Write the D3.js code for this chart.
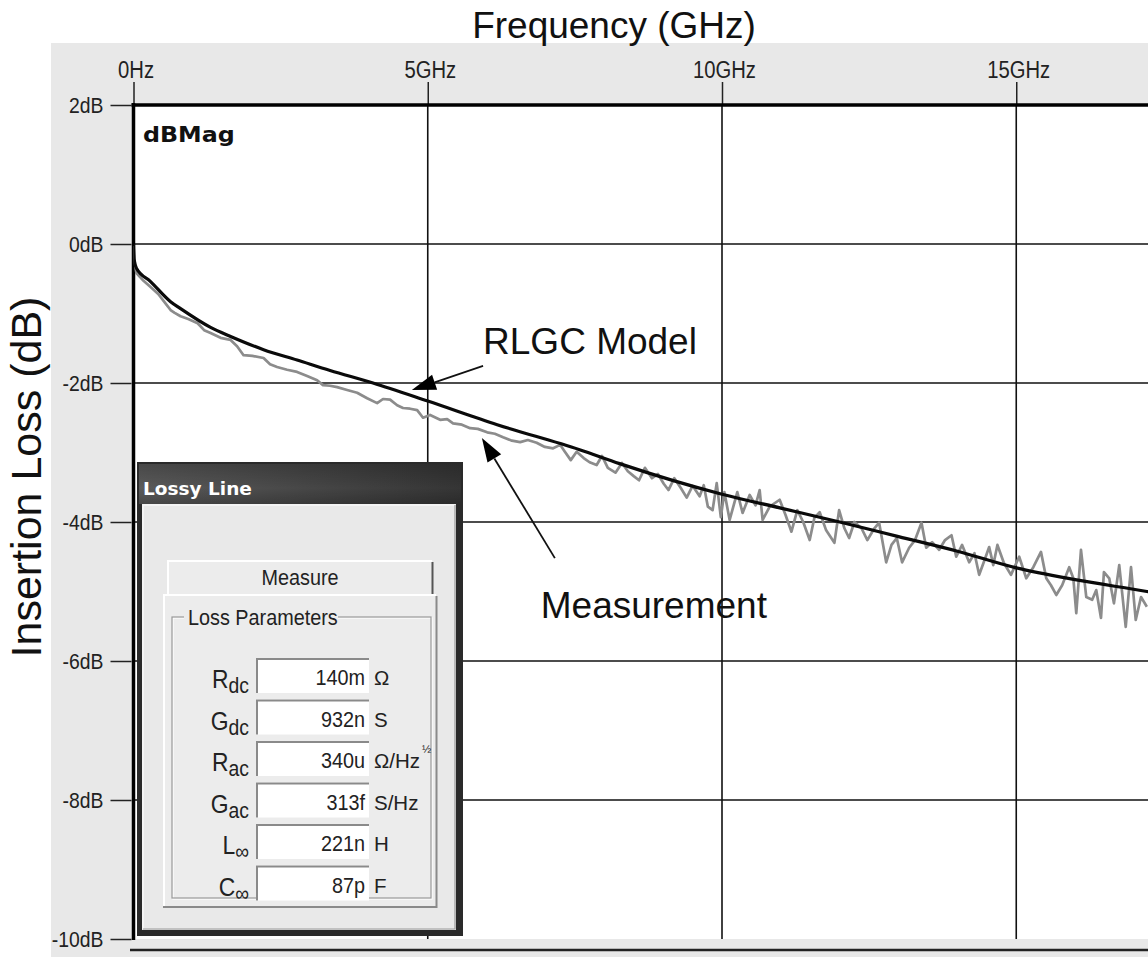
<!DOCTYPE html>
<html>
<head>
<meta charset="utf-8">
<script src="https://cdn.jsdelivr.net/npm/d3@7"></script>
<style>
  html, body { margin: 0; padding: 0; background: #ffffff; }
  svg { display: block; }
</style>
</head>
<body>
<script>
// ---------------- DATA ----------------
const freqTicks = [0, 5, 10, 15];
const freqTickLabels = ["0Hz", "5GHz", "10GHz", "15GHz"];
const dbTicks = [2, 0, -2, -4, -6, -8, -10];
const dbTickLabels = ["2dB", "0dB", "-2dB", "-4dB", "-6dB", "-8dB", "-10dB"];

// RLGC model (GHz, dB)
const modelFreq = [0, 0.01, 0.05, 0.29, 0.63, 0.8, 1.31, 1.65, 2.21, 2.78, 3.34, 4.07, 5.0, 6.18, 7.58, 8.26, 10, 11, 12, 13, 14, 15, 16, 17.22, 18];
const modelDb   = [0, -0.22, -0.35, -0.54, -0.83, -0.93, -1.2, -1.33, -1.52, -1.67, -1.82, -2.0, -2.26, -2.6, -2.96, -3.16, -3.6, -3.8, -4.0, -4.21, -4.42, -4.66, -4.83, -5.0, -5.12];

// Measurement (GHz, dB)
const measFreq = [0, 0.02, 0.05, 0.17, 0.29, 0.42, 0.54, 0.63, 0.70, 0.80, 0.93, 1.09, 1.20, 1.31, 1.48, 1.65, 1.76, 1.87, 2.02, 2.21, 2.32, 2.44, 2.61, 2.78, 2.95, 3.12, 3.22, 3.34, 3.46, 3.63, 3.80, 3.97, 4.14, 4.24, 4.36, 4.48, 4.58, 4.70, 4.82, 4.92, 5.04, 5.21, 5.33, 5.43, 5.58, 5.72, 5.85, 6.01, 6.14, 6.28, 6.43, 6.57, 6.70, 6.85, 6.99, 7.13, 7.25, 7.33, 7.43, 7.53, 7.65, 7.75, 7.87, 7.96, 8.06, 8.19, 8.30, 8.40, 8.50, 8.59, 8.69, 8.81, 8.91, 9.01, 9.09, 9.19, 9.30, 9.40, 9.50, 9.62, 9.69, 9.76, 9.84, 9.91, 9.98, 10.04, 10.13, 10.26, 10.35, 10.47, 10.57, 10.64, 10.69, 10.81, 10.98, 11.08, 11.18, 11.28, 11.38, 11.49, 11.57, 11.66, 11.77, 11.91, 11.99, 12.08, 12.16, 12.25, 12.37, 12.47, 12.59, 12.67, 12.79, 12.88, 12.97, 13.06, 13.18, 13.28, 13.39, 13.47, 13.57, 13.69, 13.79, 13.90, 13.98, 14.08, 14.20, 14.29, 14.37, 14.46, 14.54, 14.61, 14.68, 14.79, 14.91, 15.05, 15.17, 15.29, 15.42, 15.51, 15.59, 15.68, 15.78, 15.90, 15.97, 16.02, 16.10, 16.19, 16.29, 16.36, 16.44, 16.49, 16.58, 16.66, 16.75, 16.86, 16.95, 17.03, 17.12, 17.22];
const measDb   = [-0.03, -0.26, -0.42, -0.53, -0.62, -0.72, -0.85, -0.95, -0.99, -1.04, -1.08, -1.14, -1.24, -1.28, -1.35, -1.38, -1.47, -1.60, -1.61, -1.64, -1.73, -1.77, -1.81, -1.84, -1.90, -1.96, -2.03, -2.04, -2.06, -2.10, -2.14, -2.22, -2.29, -2.23, -2.24, -2.32, -2.36, -2.37, -2.39, -2.50, -2.46, -2.53, -2.52, -2.58, -2.60, -2.65, -2.66, -2.71, -2.73, -2.78, -2.83, -2.85, -2.82, -2.86, -2.92, -2.94, -2.89, -2.99, -3.11, -2.99, -3.08, -3.14, -3.18, -3.05, -3.22, -3.29, -3.15, -3.27, -3.34, -3.40, -3.22, -3.37, -3.31, -3.45, -3.54, -3.37, -3.51, -3.65, -3.48, -3.63, -3.47, -3.78, -3.83, -3.44, -3.93, -3.57, -3.97, -3.57, -3.87, -3.61, -3.76, -3.54, -3.97, -3.78, -3.68, -3.90, -4.14, -3.83, -4.00, -4.26, -3.94, -3.86, -4.12, -4.30, -3.83, -4.09, -4.23, -4.00, -4.09, -4.26, -4.09, -4.01, -4.58, -4.33, -4.23, -4.58, -4.37, -4.26, -4.01, -4.37, -4.29, -4.40, -4.26, -4.19, -4.50, -4.33, -4.58, -4.45, -4.76, -4.55, -4.36, -4.62, -4.33, -4.59, -4.76, -4.50, -4.81, -4.65, -4.43, -4.81, -4.91, -5.05, -4.91, -4.65, -4.81, -5.31, -4.40, -5.08, -5.12, -4.98, -5.38, -4.72, -4.81, -5.17, -4.62, -5.51, -4.65, -5.41, -5.08, -5.22];

// Dialog parameters
const paramSymbols = ["R", "G", "R", "G", "L", "C"];
const paramSubs    = ["dc", "dc", "ac", "ac", "∞", "∞"];
const paramValues  = ["140m", "932n", "340u", "313f", "221n", "87p"];
const paramUnits   = ["Ω", "S", "Ω/Hz", "S/Hz", "H", "F"];
const paramUnitSups = ["", "", "½", "", "", ""];

// Annotations (data units)
const annoRLGC = { text: "RLGC Model", f: 5.94, db: -1.58, from: [5.94, -1.755], to: [4.73, -2.10] };
const annoMeas = { text: "Measurement", f: 6.92, db: -5.38, from: [7.16, -4.52], to: [5.92, -2.79] };

// ---------------- CHART ----------------
const W = 1148, H = 957;
const svg = d3.select("body").append("svg").attr("width", W).attr("height", H);

const x = d3.scaleLinear().domain([0, 20]).range([133.5, 133.5 + 20 * 58.85]);
const y = d3.scaleLinear().domain([2, -10]).range([105, 939]);

const sans = "'Liberation Sans', Arial, sans-serif";

// squeeze text horizontally (narrow UI font look)
function squeeze(sel, f) {
  sel.each(function () {
    const w = this.getComputedTextLength();
    d3.select(this).attr("textLength", w * f).attr("lengthAdjust", "spacingAndGlyphs");
  });
}

// gray panel
svg.append("rect").attr("x", 51).attr("y", 43).attr("width", W - 51).attr("height", H - 43).attr("fill", "#e8e8e8");
// plot area
svg.append("rect").attr("x", x(0)).attr("y", y(2)).attr("width", W - x(0)).attr("height", y(-10) - y(2)).attr("fill", "#ffffff");
// bottom line
svg.append("line").attr("x1", 130).attr("x2", W).attr("y1", 950).attr("y2", 950).attr("stroke", "#222").attr("stroke-width", 2.5);

// grid
const grid = svg.append("g");
grid.selectAll("line.v").data(freqTicks.filter(d => d > 0)).join("line")
  .attr("x1", d => x(d)).attr("x2", d => x(d)).attr("y1", y(2)).attr("y2", y(-10))
  .attr("stroke", "#111").attr("stroke-width", 1.6);
grid.selectAll("line.h").data(dbTicks.filter(d => d < 2 && d > -10)).join("line")
  .attr("x1", x(0)).attr("x2", W).attr("y1", d => y(d)).attr("y2", d => y(d))
  .attr("stroke", "#111").attr("stroke-width", 1.6);

// axes
const xAxis = d3.axisTop(x).tickValues(freqTicks).tickFormat((d, i) => freqTickLabels[i]).tickSize(23).tickPadding(4);
const gx = svg.append("g").attr("transform", `translate(0,${y(2)})`).call(xAxis);
gx.select(".domain").remove();
gx.selectAll(".tick line").attr("stroke", "#222").attr("stroke-width", 1.5);
gx.selectAll(".tick text").attr("font-family", sans).attr("font-size", 23).attr("fill", "#222").attr("dx", 2);
squeeze(gx.selectAll(".tick text"), 0.88);

const yAxis = d3.axisLeft(y).tickValues(dbTicks).tickFormat((d, i) => dbTickLabels[i]).tickSize(21).tickPadding(7);
const gy = svg.append("g").attr("transform", `translate(${x(0) - 2},0)`).call(yAxis);
gy.select(".domain").remove();
gy.selectAll(".tick line").attr("stroke", "#222").attr("stroke-width", 1.5);
gy.selectAll(".tick text").attr("font-family", sans).attr("font-size", 22.5).attr("fill", "#222");
squeeze(gy.selectAll(".tick text"), 0.86);

// borders
svg.append("line").attr("x1", x(0)).attr("x2", x(0)).attr("y1", y(2) - 2).attr("y2", y(-10) + 1).attr("stroke", "#000").attr("stroke-width", 3.5);
svg.append("line").attr("x1", x(0) - 2).attr("x2", W).attr("y1", y(2)).attr("y2", y(2)).attr("stroke", "#000").attr("stroke-width", 3.5);

// titles
svg.append("text").attr("x", 614).attr("y", 38).attr("text-anchor", "middle")
  .attr("font-family", sans).attr("font-size", 37).attr("fill", "#111").text("Frequency (GHz)");
svg.append("text").attr("transform", "translate(41,477) rotate(-90)").attr("text-anchor", "middle")
  .attr("font-family", sans).attr("font-size", 43).attr("fill", "#111").text("Insertion Loss (dB)");
const dbm = svg.append("text").attr("x", 143).attr("y", 142)
  .attr("font-family", "'DejaVu Sans', sans-serif").attr("font-weight", "bold").attr("font-size", 22)
  .attr("fill", "#111").text("dBMag");
squeeze(dbm, 1.08);

// curves
svg.append("clipPath").attr("id", "plotclip").append("rect")
  .attr("x", x(0)).attr("y", y(2)).attr("width", W - x(0)).attr("height", y(-10) - y(2));
const curves = svg.append("g").attr("clip-path", "url(#plotclip)");
const measLine = d3.line().x((d, i) => x(measFreq[i])).y(d => y(d));
curves.append("path").attr("d", measLine(measDb)).attr("fill", "none")
  .attr("stroke", "#8c8c8c").attr("stroke-width", 2.7).attr("stroke-linejoin", "round");
const modelLine = d3.line().x((d, i) => x(modelFreq[i])).y(d => y(d)).curve(d3.curveMonotoneX);
curves.append("path").attr("d", modelLine(modelDb)).attr("fill", "none")
  .attr("stroke", "#0a0a0a").attr("stroke-width", 3.2);

// annotations
function arrow(a) {
  const x1 = x(a.from[0]), y1 = y(a.from[1]), x2 = x(a.to[0]), y2 = y(a.to[1]);
  const ang = Math.atan2(y2 - y1, x2 - x1);
  const L = 24, hw = 8;
  const bx = x2 - L * Math.cos(ang), by = y2 - L * Math.sin(ang);
  svg.append("line").attr("x1", x1).attr("y1", y1).attr("x2", bx).attr("y2", by)
    .attr("stroke", "#111").attr("stroke-width", 1.8);
  const p = [[x2, y2], [bx + hw * Math.sin(ang), by - hw * Math.cos(ang)], [bx - hw * Math.sin(ang), by + hw * Math.cos(ang)]];
  svg.append("polygon").attr("points", p.map(q => q.join(",")).join(" ")).attr("fill", "#000");
  svg.append("text").attr("x", x(a.f)).attr("y", y(a.db)).attr("font-family", sans).attr("font-size", 37)
    .attr("fill", "#111").text(a.text);
}
arrow(annoRLGC);
arrow(annoMeas);

// ---------------- DIALOG ----------------
const dlg = svg.append("g");
const defs = svg.append("defs");
const grad = defs.append("linearGradient").attr("id", "titlegrad").attr("x1", 0).attr("x2", 1).attr("y1", 0).attr("y2", 0);
grad.append("stop").attr("offset", "0%").attr("stop-color", "#5a5a5a");
grad.append("stop").attr("offset", "100%").attr("stop-color", "#353535");
const grad2 = defs.append("linearGradient").attr("id", "titlegrad2").attr("x1", 0).attr("x2", 0).attr("y1", 0).attr("y2", 1);
grad2.append("stop").attr("offset", "0%").attr("stop-color", "#000").attr("stop-opacity", 0.2);
grad2.append("stop").attr("offset", "60%").attr("stop-color", "#000").attr("stop-opacity", 0);
grad2.append("stop").attr("offset", "100%").attr("stop-color", "#000").attr("stop-opacity", 0.2);

dlg.append("rect").attr("x", 137).attr("y", 462).attr("width", 326).attr("height", 474).attr("fill", "#2a2a2a");
dlg.append("rect").attr("x", 139).attr("y", 464).attr("width", 322).attr("height", 40).attr("fill", "url(#titlegrad)");
dlg.append("rect").attr("x", 139).attr("y", 464).attr("width", 322).attr("height", 40).attr("fill", "url(#titlegrad2)");
dlg.append("text").attr("x", 143).attr("y", 495).attr("font-family", "'DejaVu Sans', sans-serif")
  .attr("font-weight", "bold").attr("font-size", 18.5).attr("fill", "#ffffff").text("Lossy Line");
// body
dlg.append("rect").attr("x", 142).attr("y", 504).attr("width", 314).attr("height", 426).attr("fill", "#e9e9e9");
dlg.append("path").attr("d", "M143,929 L143,505 L455,505").attr("fill", "none").attr("stroke", "#f7f7f7").attr("stroke-width", 1.5);
dlg.append("path").attr("d", "M455,505 L455,929 L143,929").attr("fill", "none").attr("stroke", "#9a9a9a").attr("stroke-width", 1.2);

// tab
dlg.append("rect").attr("x", 168).attr("y", 560).attr("width", 265).attr("height", 34).attr("fill", "#ececec");
dlg.append("path").attr("d", "M168,594 L168,561 L432,561").attr("fill", "none").attr("stroke", "#ffffff").attr("stroke-width", 2);
dlg.append("path").attr("d", "M432.5,562 L432.5,594").attr("fill", "none").attr("stroke", "#555").attr("stroke-width", 2);
const tabT = dlg.append("text").attr("x", 300).attr("y", 585).attr("text-anchor", "middle").attr("font-family", sans)
  .attr("font-size", 22).attr("fill", "#222").text("Measure");
squeeze(tabT, 0.9);

// tab page
dlg.append("rect").attr("x", 163).attr("y", 594).attr("width", 274).attr("height", 313).attr("fill", "#ececec");
dlg.append("path").attr("d", "M164,906 L164,595 L436,595").attr("fill", "none").attr("stroke", "#ffffff").attr("stroke-width", 2);
dlg.append("path").attr("d", "M436.5,596 L436.5,907 L163,907").attr("fill", "none").attr("stroke", "#8a8a8a").attr("stroke-width", 2);

// group box
dlg.append("rect").attr("x", 173).attr("y", 618).attr("width", 259).attr("height", 281).attr("fill", "none").attr("stroke", "#ffffff").attr("stroke-width", 1.2);
dlg.append("rect").attr("x", 172).attr("y", 617).attr("width", 259).attr("height", 281).attr("fill", "none").attr("stroke", "#999").attr("stroke-width", 1.2);
dlg.append("rect").attr("x", 184).attr("y", 606).attr("width", 154).attr("height", 24).attr("fill", "#ececec");
const grpT = dlg.append("text").attr("x", 188).attr("y", 625).attr("font-family", sans).attr("font-size", 22)
  .attr("fill", "#222").text("Loss Parameters");
squeeze(grpT, 0.9);

// rows
const rowTop = 658, rowStep = 41.5;
paramSymbols.forEach((sym, i) => {
  const top = rowTop + i * rowStep;
  const t = dlg.append("text").attr("x", 249).attr("y", top + 30).attr("text-anchor", "end")
    .attr("font-family", sans).attr("fill", "#222");
  t.append("tspan").attr("font-size", 26).text(sym);
  t.append("tspan").attr("font-size", 22).attr("dy", 5).text(paramSubs[i]);
  squeeze(t, 0.88);

  dlg.append("rect").attr("x", 256).attr("y", top).attr("width", 113).attr("height", 35).attr("fill", "#ffffff");
  dlg.append("path").attr("d", `M257,${top + 35} L257,${top + 1} L369,${top + 1}`).attr("fill", "none")
    .attr("stroke", "#8a8a8a").attr("stroke-width", 2);
  const v = dlg.append("text").attr("x", 365).attr("y", top + 27).attr("text-anchor", "end")
    .attr("font-family", sans).attr("font-size", 22).attr("fill", "#222").text(paramValues[i]);
  squeeze(v, 0.9);
  const u = dlg.append("text").attr("x", 374).attr("y", top + 27)
    .attr("font-family", sans).attr("font-size", 20.5).attr("fill", "#222").text(paramUnits[i]);
  if (paramUnitSups[i]) {
    const w = u.node().getComputedTextLength();
    dlg.append("text").attr("x", 374 + w + 2).attr("y", top + 12)
      .attr("font-family", sans).attr("font-size", 11).attr("fill", "#222").text(paramUnitSups[i]);
  }
});
</script>
</body>
</html>
